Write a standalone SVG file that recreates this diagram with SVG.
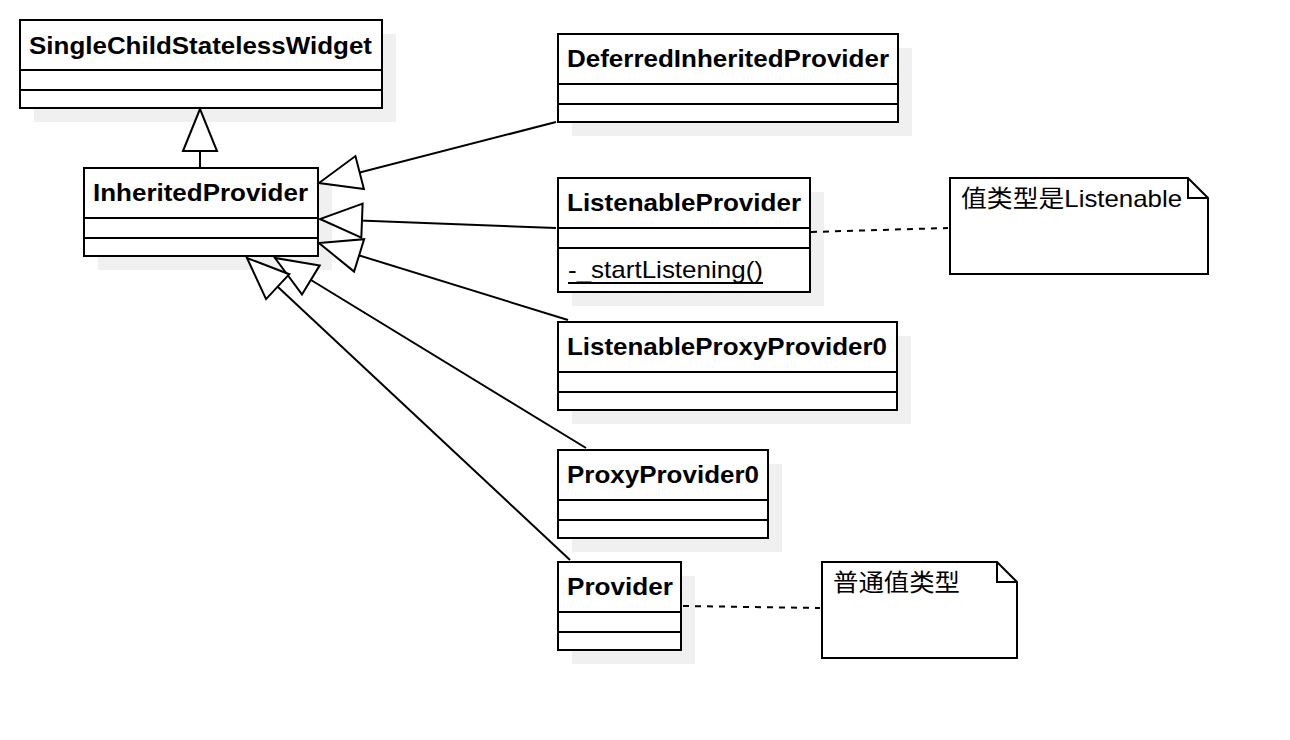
<svg xmlns="http://www.w3.org/2000/svg" width="1290" height="740" viewBox="0 0 1290 740">
<style>
.box{fill:#fff;stroke:#000;stroke-width:2}
.sh{fill:#f0f0f0}
.sep{stroke:#000;stroke-width:2}
.name{font-family:"Liberation Sans",Arial,sans-serif;font-weight:bold;font-size:24px;fill:#000}
.txt{font-family:"Liberation Sans","Noto Sans CJK SC",sans-serif;font-size:24px;fill:#000}
.edge{fill:none;stroke:#000;stroke-width:2}
.dash{fill:none;stroke:#000;stroke-width:2;stroke-dasharray:6 6}
</style>
<defs>
<marker id="tri" markerUnits="userSpaceOnUse" markerWidth="50" markerHeight="40" viewBox="-2 -20 46 40" refX="42" refY="0" orient="auto" overflow="visible">
<path d="M0,-17 L42,0 L0,17 Z" fill="#fff" stroke="#000" stroke-width="2"/>
</marker>
</defs>
<rect width="1290" height="740" fill="#fff"/>
<g id="SingleChildStatelessWidget">
<rect class="sh" x="34" y="34" width="362" height="88"/>
<rect class="box" x="20" y="20" width="362" height="88"/>
<line class="sep" x1="20" y1="70" x2="382" y2="70"/>
<line class="sep" x1="20" y1="90" x2="382" y2="90"/>
<text class="name" x="29" y="54" textLength="343" lengthAdjust="spacingAndGlyphs">SingleChildStatelessWidget</text>
</g>
<g id="InheritedProvider">
<rect class="sh" x="98" y="182" width="234" height="88"/>
<rect class="box" x="84" y="168" width="234" height="88"/>
<line class="sep" x1="84" y1="218" x2="318" y2="218"/>
<line class="sep" x1="84" y1="238" x2="318" y2="238"/>
<text class="name" x="93" y="201" textLength="215" lengthAdjust="spacingAndGlyphs">InheritedProvider</text>
</g>
<g id="DeferredInheritedProvider">
<rect class="sh" x="572" y="48" width="340" height="88"/>
<rect class="box" x="558" y="34" width="340" height="88"/>
<line class="sep" x1="558" y1="84" x2="898" y2="84"/>
<line class="sep" x1="558" y1="104" x2="898" y2="104"/>
<text class="name" x="567" y="67" textLength="322" lengthAdjust="spacingAndGlyphs">DeferredInheritedProvider</text>
</g>
<g id="ListenableProvider">
<rect class="sh" x="572" y="192" width="252" height="114"/>
<rect class="box" x="558" y="178" width="252" height="114"/>
<line class="sep" x1="558" y1="228" x2="810" y2="228"/>
<line class="sep" x1="558" y1="248" x2="810" y2="248"/>
<text class="name" x="567" y="211" textLength="234" lengthAdjust="spacingAndGlyphs">ListenableProvider</text>
<text class="txt" x="568" y="278" textLength="195" lengthAdjust="spacingAndGlyphs">-_startListening()</text>
<line x1="568" y1="283" x2="763" y2="283" stroke="#000" stroke-width="2"/>
</g>
<g id="ListenableProxyProvider0">
<rect class="sh" x="572" y="336" width="339" height="88"/>
<rect class="box" x="558" y="322" width="339" height="88"/>
<line class="sep" x1="558" y1="372" x2="897" y2="372"/>
<line class="sep" x1="558" y1="392" x2="897" y2="392"/>
<text class="name" x="567" y="355" textLength="320" lengthAdjust="spacingAndGlyphs">ListenableProxyProvider0</text>
</g>
<g id="ProxyProvider0">
<rect class="sh" x="572" y="464" width="210" height="88"/>
<rect class="box" x="558" y="450" width="210" height="88"/>
<line class="sep" x1="558" y1="500" x2="768" y2="500"/>
<line class="sep" x1="558" y1="520" x2="768" y2="520"/>
<text class="name" x="567" y="483" textLength="192" lengthAdjust="spacingAndGlyphs">ProxyProvider0</text>
</g>
<g id="Provider">
<rect class="sh" x="572" y="576" width="123" height="88"/>
<rect class="box" x="558" y="562" width="123" height="88"/>
<line class="sep" x1="558" y1="612" x2="681" y2="612"/>
<line class="sep" x1="558" y1="632" x2="681" y2="632"/>
<text class="name" x="567" y="595" textLength="106" lengthAdjust="spacingAndGlyphs">Provider</text>
</g>
<g id="note1">
<path class="box" d="M950,178 H1188 L1208,198 V274 H950 Z"/>
<path class="edge" d="M1188,178 V198 H1208"/>
<text class="txt" x="961" y="207" textLength="221" lengthAdjust="spacingAndGlyphs">值类型是Listenable</text>
</g>
<g id="note2">
<path class="box" d="M822,562 H997 L1017,582 V658 H822 Z"/>
<path class="edge" d="M997,562 V582 H1017"/>
<text class="txt" x="833" y="591" textLength="127" lengthAdjust="spacingAndGlyphs">普通值类型</text>
</g>
<g id="connectors">
<line class="edge" x1="200" y1="167" x2="200" y2="109" marker-end="url(#tri)"/>
<line class="edge" x1="556" y1="122" x2="319" y2="183" marker-end="url(#tri)"/>
<line class="edge" x1="556" y1="228" x2="320" y2="219" marker-end="url(#tri)"/>
<line class="edge" x1="568" y1="320" x2="319" y2="243" marker-end="url(#tri)"/>
<line class="edge" x1="586" y1="448" x2="275" y2="258" marker-end="url(#tri)"/>
<line class="edge" x1="570" y1="560" x2="247" y2="258" marker-end="url(#tri)"/>
<line class="dash" x1="811" y1="232" x2="948" y2="228"/>
<line class="dash" x1="683" y1="606" x2="820" y2="608"/>
</g>
</svg>
